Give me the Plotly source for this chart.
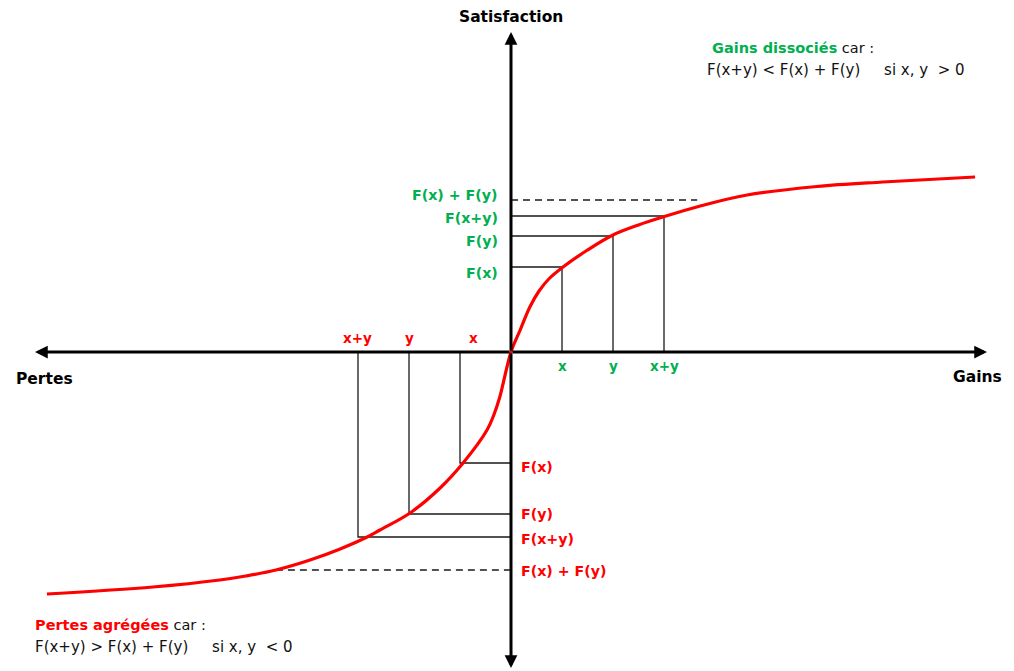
import plotly.graph_objects as go

# ---------------- data ----------------
curve_x = [-9.10, -7.02, -5.71, -5.20, -4.61, -3.94, -3.35, -2.82, -2.57, -1.98, -1.39,
           -0.94, -0.47, -0.33, -0.22, 0.0, 0.18, 0.37, 0.55, 0.75, 1.02, 1.50, 2.00,
           2.50, 2.98, 3.71, 4.63, 6.00, 7.29, 9.10]
curve_y = [-4.84, -4.70, -4.56, -4.48, -4.36, -4.16, -3.94, -3.70, -3.56, -3.22, -2.72,
           -2.22, -1.56, -1.24, -0.90, 0.0, 0.44, 0.90, 1.22, 1.47, 1.70, 2.04, 2.34,
           2.54, 2.70, 2.92, 3.14, 3.31, 3.40, 3.50]

gain_ticks = [1, 2, 3]
gain_tick_labels = ["x", "y", "x+y"]
gain_F = [1.70, 2.32, 2.72]
gain_F_labels = ["F(x)", "F(y)", "F(x+y)"]
gain_sum = 3.04
gain_sum_label = "F(x) + F(y)"
gain_sum_x_end = 3.65

loss_ticks = [-1, -2, -3]
loss_tick_labels = ["x", "y", "x+y"]
loss_F = [-2.22, -3.24, -3.70]
loss_F_labels = ["F(x)", "F(y)", "F(x+y)"]
loss_sum = -4.36
loss_sum_label = "F(x) + F(y)"
loss_sum_x_start = -4.61

# ---------------- styles ----------------
GREEN = "#00b050"
RED = "#ff0000"
FONT = "DejaVu Sans"
W, H = 1014, 671
OX, OY = 511, 352      # pixel of origin
SX, SY = 51.0, 50.0    # pixels per unit

x_range = [(0 - OX) / SX, (W - OX) / SX]
y_range = [(OY - H) / SY, (OY - 0) / SY]

def px(p):
    return (p - OX) / SX

def py(p):
    return (OY - p) / SY

fig = go.Figure()

# guide lines
gx, gy = [], []
for t, f in zip(gain_ticks, gain_F):
    gx += [0, t, t, None]
    gy += [f, f, 0, None]
for t, f in zip(loss_ticks, loss_F):
    gx += [0, t, t, None]
    gy += [f, f, 0, None]
fig.add_trace(go.Scatter(x=gx, y=gy, mode="lines",
                         line=dict(color="#1a1a1a", width=1.3),
                         hoverinfo="skip", showlegend=False))

# dashed sum lines
fig.add_trace(go.Scatter(x=[0, gain_sum_x_end, None, loss_sum_x_start, 0],
                         y=[gain_sum, gain_sum, None, loss_sum, loss_sum],
                         mode="lines",
                         line=dict(color="#1a1a1a", width=1.3, dash="7px,5px"),
                         hoverinfo="skip", showlegend=False))

# value curve
fig.add_trace(go.Scatter(x=curve_x, y=curve_y, mode="lines",
                         line=dict(color=RED, width=3.2, shape="spline", smoothing=1.0),
                         hoverinfo="skip", showlegend=False))

ann = []
# axes with arrows
for (tx, ty) in [(px(35), 0), (px(987), 0), (0, py(32)), (0, py(668))]:
    ann.append(dict(x=tx, y=ty, ax=0, ay=0, xref="x", yref="y", axref="x", ayref="y",
                    text="", showarrow=True, arrowhead=2, arrowsize=0.85,
                    arrowwidth=3, arrowcolor="#000000"))

ann.append(dict(x=0, y=py(17), text="<b>Satisfaction</b>", showarrow=False,
                font=dict(family=FONT, size=15.5, color="#000"), xanchor="center"))
ann.append(dict(x=px(14), y=py(379), text="<b>Pertes</b>", showarrow=False,
                font=dict(family=FONT, size=15.5, color="#000"), xanchor="left"))
ann.append(dict(x=px(1004), y=py(377), text="<b>Gains</b>", showarrow=False,
                font=dict(family=FONT, size=15.5, color="#000"), xanchor="right"))

# tick labels
for t, lab in zip(gain_ticks, gain_tick_labels):
    ann.append(dict(x=t, y=0, yshift=-14, text="<b>" + lab + "</b>", showarrow=False,
                    font=dict(family=FONT, size=13.5, color=GREEN)))
loss_shift = [13, 0, -1]
for t, lab, s in zip(loss_ticks, loss_tick_labels, loss_shift):
    ann.append(dict(x=t, y=0, yshift=14, xshift=s, text="<b>" + lab + "</b>", showarrow=False,
                    font=dict(family=FONT, size=13.5, color=RED)))

# F labels (gains, left of axis)
gain_label_py = [273, 241, 218]
for lab, p in zip(gain_F_labels, gain_label_py):
    ann.append(dict(x=0, xshift=-11, y=py(p), text="<b>" + lab + "</b>", showarrow=False,
                    xanchor="right", font=dict(family=FONT, size=14.2, color=GREEN)))
ann.append(dict(x=0, xshift=-11, y=py(195), text="<b>" + gain_sum_label + "</b>", showarrow=False,
                xanchor="right", font=dict(family=FONT, size=14.2, color=GREEN)))

loss_label_py = [467, 514, 539]
for lab, p in zip(loss_F_labels, loss_label_py):
    ann.append(dict(x=0, xshift=8, y=py(p), text="<b>" + lab + "</b>", showarrow=False,
                    xanchor="left", font=dict(family=FONT, size=14.2, color=RED)))
ann.append(dict(x=0, xshift=8, y=py(571), text="<b>" + loss_sum_label + "</b>", showarrow=False,
                xanchor="left", font=dict(family=FONT, size=14.2, color=RED)))

NB = "\u00a0"
# explanatory texts
ann.append(dict(x=px(710), y=py(48), xanchor="left", showarrow=False,
                text="<b><span style='color:%s'>Gains dissociés</span></b> car :" % GREEN,
                font=dict(family=FONT, size=14.5, color="#111")))
ann.append(dict(x=px(705), y=py(70), xanchor="left", showarrow=False,
                text="F(x+y) &lt; F(x) + F(y)" + NB * 5 + "si x, y" + NB * 2 + "&gt; 0",
                font=dict(family=FONT, size=15, color="#111")))
ann.append(dict(x=px(33), y=py(625), xanchor="left", showarrow=False,
                text="<b><span style='color:%s'>Pertes agrégées</span></b> car :" % RED,
                font=dict(family=FONT, size=14.5, color="#111")))
ann.append(dict(x=px(33), y=py(647), xanchor="left", showarrow=False,
                text="F(x+y) &gt; F(x) + F(y)" + NB * 5 + "si x, y" + NB * 2 + "&lt; 0",
                font=dict(family=FONT, size=15, color="#111")))

fig.update_layout(
    width=W, height=H,
    margin=dict(l=0, r=0, t=0, b=0),
    paper_bgcolor="white", plot_bgcolor="white",
    xaxis=dict(range=x_range, visible=False, fixedrange=True),
    yaxis=dict(range=y_range, visible=False, fixedrange=True),
    annotations=ann,
    showlegend=False,
)

fig.write_html("out.html", config={"displayModeBar": False},
               post_script="document.body.style.margin='0';document.body.style.overflow='hidden';")
